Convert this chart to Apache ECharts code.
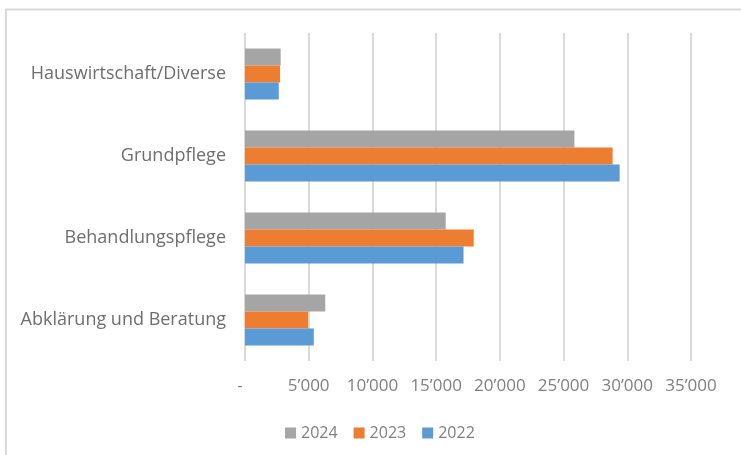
<!DOCTYPE html>
<html>
<head>
<meta charset="utf-8">
<script src="https://cdn.jsdelivr.net/npm/echarts@6/dist/echarts.min.js"></script>
<style>
html,body{margin:0;padding:0;background:#fff;}
#chart{width:741px;height:455px;}
</style>
</head>
<body>
<div id="chart"></div>
<script>
const categories = ['Abklärung und Beratung', 'Behandlungspflege', 'Grundpflege', 'Hauswirtschaft/Diverse'];
const seriesNames = ['2024', '2023', '2022'];
const values2024 = [6300, 15750, 25850, 2800];
const values2023 = [4950, 17950, 28850, 2750];
const values2022 = [5400, 17150, 29400, 2650];
const tickValues = [0, 5000, 10000, 15000, 20000, 25000, 30000, 35000];
const tickLabels = ['-', '5’000', '10’000', '15’000', '20’000', '25’000', '30’000', '35’000'];
const colors = {'2024': '#a5a5a5', '2023': '#ed7d31', '2022': '#5b9bd5'};

const chart = echarts.init(document.getElementById('chart'));
const dataBySeries = {'2024': values2024, '2023': values2023, '2022': values2022};
const FONT = 'Open Sans';

chart.setOption({
  animation: false,
  graphic: [{
    type: 'rect',
    shape: {x: 6, y: 9.5, width: 900, height: 600},
    style: {fill: 'none', stroke: '#d9d9d9', lineWidth: 2},
    silent: true
  }],
  grid: {left: 245, right: 50, top: 33, bottom: 94},
  legend: {
    data: seriesNames,
    left: 280,
    top: 420,
    itemWidth: 11,
    itemHeight: 11,
    itemGap: 16,
    icon: 'rect',
    textStyle: {fontFamily: FONT, fontSize: 16, color: '#7f7f7f'}
  },
  xAxis: {
    type: 'value',
    min: 0,
    max: 35000,
    interval: 5000,
    axisLine: {show: false},
    axisTick: {show: false},
    splitLine: {lineStyle: {color: '#d9d9d9', width: 2}},
    axisLabel: {
      margin: 17,
      fontFamily: FONT,
      fontSize: 17,
      color: '#7f7f7f',
      formatter: function (v) {
        const i = tickValues.indexOf(v);
        if (i < 0) return '';
        return i === 0 ? '{z|' + tickLabels[i] + '}' : tickLabels[i];
      },
      rich: {z: {fontFamily: FONT, fontSize: 17, color: '#7f7f7f', padding: [0, 10, 0, 0]}}
    }
  },
  yAxis: {
    type: 'category',
    data: categories,
    axisLine: {show: false},
    axisTick: {show: false},
    axisLabel: {margin: 19, fontFamily: FONT, fontSize: 18, color: '#6e6e6e'}
  },
  series: seriesNames.map(n => ({
    name: n,
    type: 'bar',
    data: dataBySeries[n],
    itemStyle: {color: colors[n]},
    barGap: '0%',
    barCategoryGap: '38%'
  }))
});
</script>
</body>
</html>
